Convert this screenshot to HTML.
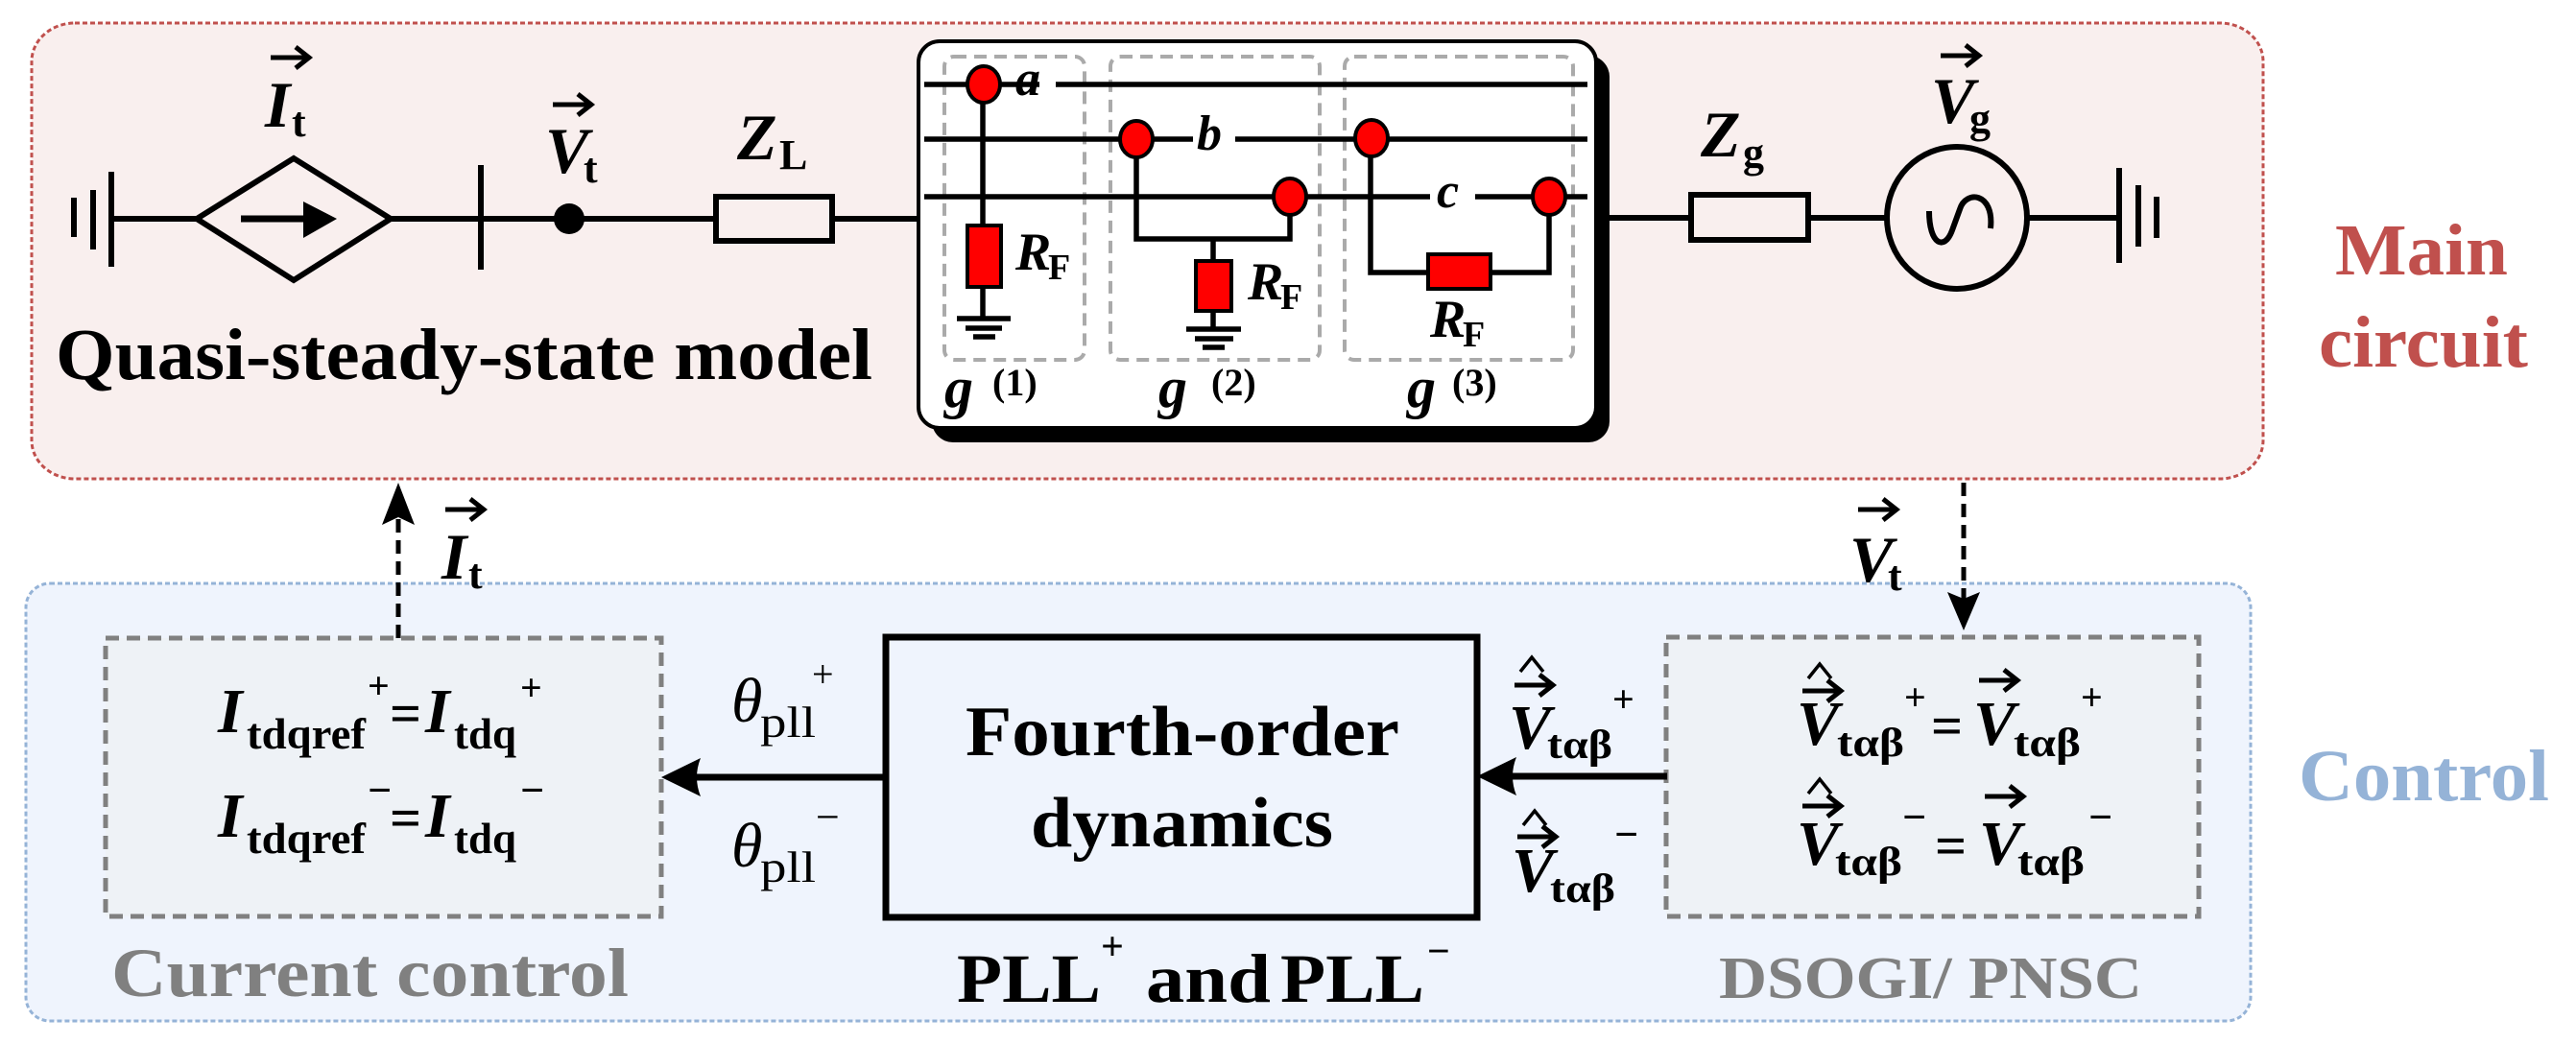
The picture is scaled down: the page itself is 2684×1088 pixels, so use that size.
<!DOCTYPE html>
<html><head><meta charset="utf-8"><style>
html,body{margin:0;padding:0;background:#fff;}
svg{display:block;}
text{font-family:"Liberation Serif",serif;}
</style></head><body>
<svg width="2684" height="1088" viewBox="0 0 2684 1088" xmlns="http://www.w3.org/2000/svg">
<defs>
<g id="va"><path d="M0,0 H38" stroke="#000" stroke-width="5" fill="none"/><path d="M26,-11 L40,0 L26,11" stroke="#000" stroke-width="5" fill="none"/></g>
<g id="hat"><path d="M0,10 L12,-5 L24,10" stroke="#000" stroke-width="3.5" fill="none"/></g>
</defs>
<rect x="33" y="24" width="2325" height="475" rx="45" ry="40" fill="#f9efee" stroke="#c0504d" stroke-width="3" stroke-dasharray="5,3"/>
<rect x="27" y="608" width="2318" height="456" rx="25" ry="25" fill="#eff4fd" stroke="#95b3d7" stroke-width="3" stroke-dasharray="5,3"/>

<g stroke="#000" stroke-width="6" fill="none">
<line x1="77" y1="206" x2="77" y2="247"/>
<line x1="97" y1="198" x2="97" y2="260"/>
<line x1="116" y1="179" x2="116" y2="278"/>
<line x1="116" y1="228" x2="205" y2="228"/>
<polygon points="205,228 306,165 407,228 306,292"/>
<line x1="407" y1="228" x2="743" y2="228"/>
<line x1="501" y1="172" x2="501" y2="281"/>
<rect x="746" y="205" width="121" height="46"/>
<line x1="870" y1="228" x2="957" y2="228"/>
<line x1="1663" y1="227" x2="1759" y2="227"/>
<rect x="1762" y="203" width="122" height="47"/>
<line x1="1887" y1="227" x2="1965" y2="227"/>
<ellipse cx="2039" cy="227" rx="73" ry="74"/>
<path d="M2074,238 C2078,200 2048,198 2042,218 L2034,240 C2026,262 2010,255 2010,220" stroke-width="6"/>
<line x1="2113" y1="227" x2="2208" y2="227"/>
<line x1="2208" y1="175" x2="2208" y2="274"/>
<line x1="2228" y1="193" x2="2228" y2="257"/>
<line x1="2247" y1="205" x2="2247" y2="248"/>
</g>
<line x1="251" y1="228" x2="330" y2="228" stroke="#000" stroke-width="7"/>
<polygon points="316,210 351,228 316,248" fill="#000"/>
<circle cx="593" cy="228" r="16" fill="#000"/>

<use href="#va" x="282" y="60"/>
<text x="276" y="132" font-size="68" font-weight="bold" font-style="italic">I</text>
<text x="304" y="142" font-size="44" font-weight="bold">t</text>
<use href="#va" x="576" y="109"/>
<text x="568" y="180" font-size="68" font-weight="bold" font-style="italic">V</text>
<text x="608" y="190" font-size="44" font-weight="bold">t</text>
<text x="768" y="166" font-size="68" font-weight="bold" font-style="italic">Z</text>
<text x="812" y="176" font-size="44" font-weight="bold">L</text>
<text x="1772" y="163" font-size="68" font-weight="bold" font-style="italic">Z</text>
<text x="1816" y="174" font-size="44" font-weight="bold">g</text>
<use href="#va" x="2022" y="58"/>
<text x="2012" y="128" font-size="68" font-weight="bold" font-style="italic">V</text>
<text x="2052" y="138" font-size="44" font-weight="bold">g</text>
<text x="58" y="395" font-size="76" font-weight="bold" textLength="851" lengthAdjust="spacingAndGlyphs">Quasi-steady-state model</text>
<text x="2433" y="286" font-size="76" font-weight="bold" fill="#c0504d" textLength="180" lengthAdjust="spacingAndGlyphs">Main</text>
<text x="2416" y="382" font-size="76" font-weight="bold" fill="#c0504d" textLength="218" lengthAdjust="spacingAndGlyphs">circuit</text>

<rect x="971" y="58" width="706" height="403" rx="22" fill="#000"/>
<rect x="957" y="43" width="706" height="403" rx="22" fill="#fff" stroke="#000" stroke-width="4"/>
<g fill="none" stroke="#aaa" stroke-width="4" stroke-dasharray="13,8">
<rect x="984" y="59" width="146" height="316" rx="10"/>
<rect x="1157" y="59" width="218" height="316" rx="10"/>
<rect x="1401" y="59" width="238" height="316" rx="10"/>
</g>
<g stroke="#000" stroke-width="5.5" fill="none">
<line x1="963" y1="88" x2="1083" y2="88"/><line x1="1100" y1="88" x2="1654" y2="88"/>
<line x1="963" y1="145" x2="1243" y2="145"/><line x1="1287" y1="145" x2="1654" y2="145"/>
<line x1="963" y1="205" x2="1490" y2="205"/><line x1="1537" y1="205" x2="1654" y2="205"/>
<line x1="1024" y1="88" x2="1024" y2="331"/>
<polyline points="1184,145 1184,249 1344,249 1344,205"/>
<line x1="1264" y1="249" x2="1264" y2="343"/>
<polyline points="1428,145 1428,284 1614,284 1614,205"/>
<line x1="997" y1="332" x2="1053" y2="332"/><line x1="1006" y1="342" x2="1044" y2="342"/><line x1="1014" y1="351" x2="1037" y2="351"/>
<line x1="1236" y1="343" x2="1293" y2="343"/><line x1="1245" y1="353" x2="1285" y2="353"/><line x1="1253" y1="362" x2="1276" y2="362"/>
</g>
<g fill="#f00" stroke="#000" stroke-width="4">
<rect x="1008" y="235" width="35" height="64"/>
<rect x="1246" y="272" width="37" height="52"/>
<rect x="1488" y="265" width="65" height="36"/>
<ellipse cx="1025" cy="88" rx="17" ry="19"/>
<ellipse cx="1184" cy="145" rx="17" ry="19"/>
<ellipse cx="1344" cy="205" rx="17" ry="19"/>
<ellipse cx="1429" cy="144" rx="17" ry="19"/>
<ellipse cx="1614" cy="205" rx="17" ry="19"/>
</g>
<g font-weight="bold">
<text x="1058" y="99" font-size="52" font-style="italic">a</text>
<text x="1247" y="156" font-size="52" font-style="italic">b</text>
<text x="1497" y="216" font-size="52" font-style="italic">c</text>
<text x="1058" y="281" font-size="56" font-style="italic">R</text><text x="1092" y="291" font-size="38">F</text>
<text x="1300" y="312" font-size="56" font-style="italic">R</text><text x="1334" y="322" font-size="38">F</text>
<text x="1490" y="351" font-size="56" font-style="italic">R</text><text x="1524" y="361" font-size="38">F</text>
<text x="984" y="424" font-size="60" font-style="italic">g</text><text x="1034" y="412" font-size="40">(1)</text>
<text x="1207" y="424" font-size="60" font-style="italic">g</text><text x="1262" y="412" font-size="40">(2)</text>
<text x="1466" y="424" font-size="60" font-style="italic">g</text><text x="1513" y="412" font-size="40">(3)</text>
</g>

<line x1="415" y1="665" x2="415" y2="540" stroke="#000" stroke-width="5" stroke-dasharray="14,8"/>
<polygon points="415,503 398,547 415,539 432,547" fill="#000"/>
<use href="#va" x="464" y="531"/>
<text x="460" y="603" font-size="68" font-weight="bold" font-style="italic">I</text>
<text x="488" y="613" font-size="44" font-weight="bold">t</text>
<line x1="2046" y1="503" x2="2046" y2="625" stroke="#000" stroke-width="5" stroke-dasharray="14,8"/>
<polygon points="2046,657 2029,617 2046,624 2063,617" fill="#000"/>
<use href="#va" x="1936" y="531"/>
<text x="1927" y="606" font-size="68" font-weight="bold" font-style="italic">V</text>
<text x="1967" y="615" font-size="44" font-weight="bold">t</text>

<rect x="110" y="665" width="579" height="290" fill="#eef2f6" stroke="#808080" stroke-width="5" stroke-dasharray="14,8"/>
<rect x="1736" y="664" width="555" height="291" fill="#eef2f6" stroke="#808080" stroke-width="5" stroke-dasharray="14,8"/>
<rect x="923" y="664" width="616" height="292" fill="none" stroke="#000" stroke-width="7"/>
<line x1="923" y1="810" x2="720" y2="810" stroke="#000" stroke-width="7"/>
<path d="M689,810 L730,790 Q722,810 730,830 Z" fill="#000"/>
<line x1="1737" y1="809" x2="1570" y2="809" stroke="#000" stroke-width="7"/>
<path d="M1539,809 L1580,789 Q1572,809 1580,829 Z" fill="#000"/>

<g font-weight="bold">
<text x="1006" y="787" font-size="74" textLength="452" lengthAdjust="spacingAndGlyphs">Fourth-order</text>
<text x="1074" y="882" font-size="74" textLength="315" lengthAdjust="spacingAndGlyphs">dynamics</text>
<text x="997" y="1044" font-size="72" textLength="150" lengthAdjust="spacingAndGlyphs">PLL</text>
<text x="1147" y="1000" font-size="42">+</text>
<text x="1194" y="1044" font-size="72" textLength="130" lengthAdjust="spacingAndGlyphs">and</text>
<text x="1334" y="1044" font-size="72" textLength="150" lengthAdjust="spacingAndGlyphs">PLL</text>
<text x="1487" y="1005" font-size="42">−</text>
<text x="116" y="1038" font-size="72" fill="#808080" textLength="539" lengthAdjust="spacingAndGlyphs">Current control</text>
<text x="1791" y="1040" font-size="62" fill="#808080" textLength="441" lengthAdjust="spacingAndGlyphs">DSOGI/ PNSC</text>
</g>
<text x="2395" y="834" font-size="76" font-weight="bold" fill="#95b3d7" textLength="261" lengthAdjust="spacingAndGlyphs">Control</text>

<g font-weight="bold">
<text x="227" y="763" font-size="66" font-style="italic">I</text>
<text x="257" y="780" font-size="46" textLength="124" lengthAdjust="spacingAndGlyphs">tdqref</text>
<text x="383" y="728" font-size="40">+</text>
<text x="406" y="763" font-size="58">=</text>
<text x="443" y="763" font-size="66" font-style="italic">I</text>
<text x="473" y="780" font-size="46" textLength="65" lengthAdjust="spacingAndGlyphs">tdq</text>
<text x="542" y="730" font-size="40">+</text>
<text x="227" y="872" font-size="66" font-style="italic">I</text>
<text x="257" y="889" font-size="46" textLength="124" lengthAdjust="spacingAndGlyphs">tdqref</text>
<text x="383" y="838" font-size="44">−</text>
<text x="406" y="872" font-size="58">=</text>
<text x="443" y="872" font-size="66" font-style="italic">I</text>
<text x="473" y="889" font-size="46" textLength="65" lengthAdjust="spacingAndGlyphs">tdq</text>
<text x="542" y="838" font-size="44">−</text>
</g>
<text x="762" y="752" font-size="66" font-style="italic">θ</text>
<text x="792" y="768" font-size="46" textLength="58" lengthAdjust="spacingAndGlyphs">pll</text>
<text x="846" y="716" font-size="40">+</text>
<text x="762" y="903" font-size="66" font-style="italic">θ</text>
<text x="792" y="919" font-size="46" textLength="58" lengthAdjust="spacingAndGlyphs">pll</text>
<text x="850" y="866" font-size="44">−</text>

<g font-weight="bold">
<use href="#hat" x="1584" y="690"/><use href="#va" x="1578" y="714"/>
<text x="1572" y="780" font-size="66" font-style="italic">V</text>
<text x="1612" y="790" font-size="42" textLength="68" lengthAdjust="spacingAndGlyphs">tαβ</text>
<text x="1680" y="742" font-size="40">+</text>
<use href="#hat" x="1587" y="850"/><use href="#va" x="1581" y="872"/>
<text x="1575" y="929" font-size="66" font-style="italic">V</text>
<text x="1615" y="940" font-size="42" textLength="68" lengthAdjust="spacingAndGlyphs">tαβ</text>
<text x="1682" y="884" font-size="44">−</text>

<use href="#hat" x="1884" y="697"/><use href="#va" x="1878" y="720"/>
<text x="1872" y="776" font-size="66" font-style="italic">V</text>
<text x="1914" y="788" font-size="42" textLength="70" lengthAdjust="spacingAndGlyphs">tαβ</text>
<text x="1984" y="740" font-size="40">+</text>
<text x="2012" y="776" font-size="58">=</text>
<use href="#va" x="2062" y="709"/>
<text x="2056" y="776" font-size="66" font-style="italic">V</text>
<text x="2098" y="788" font-size="42" textLength="70" lengthAdjust="spacingAndGlyphs">tαβ</text>
<text x="2168" y="740" font-size="40">+</text>
<use href="#hat" x="1884" y="817"/><use href="#va" x="1878" y="840"/>
<text x="1872" y="901" font-size="66" font-style="italic">V</text>
<text x="1912" y="912" font-size="42" textLength="70" lengthAdjust="spacingAndGlyphs">tαβ</text>
<text x="1982" y="866" font-size="44">−</text>
<text x="2016" y="901" font-size="58">=</text>
<use href="#va" x="2068" y="830"/>
<text x="2062" y="901" font-size="66" font-style="italic">V</text>
<text x="2102" y="912" font-size="42" textLength="70" lengthAdjust="spacingAndGlyphs">tαβ</text>
<text x="2176" y="866" font-size="44">−</text>
</g>
</svg>
</body></html>
